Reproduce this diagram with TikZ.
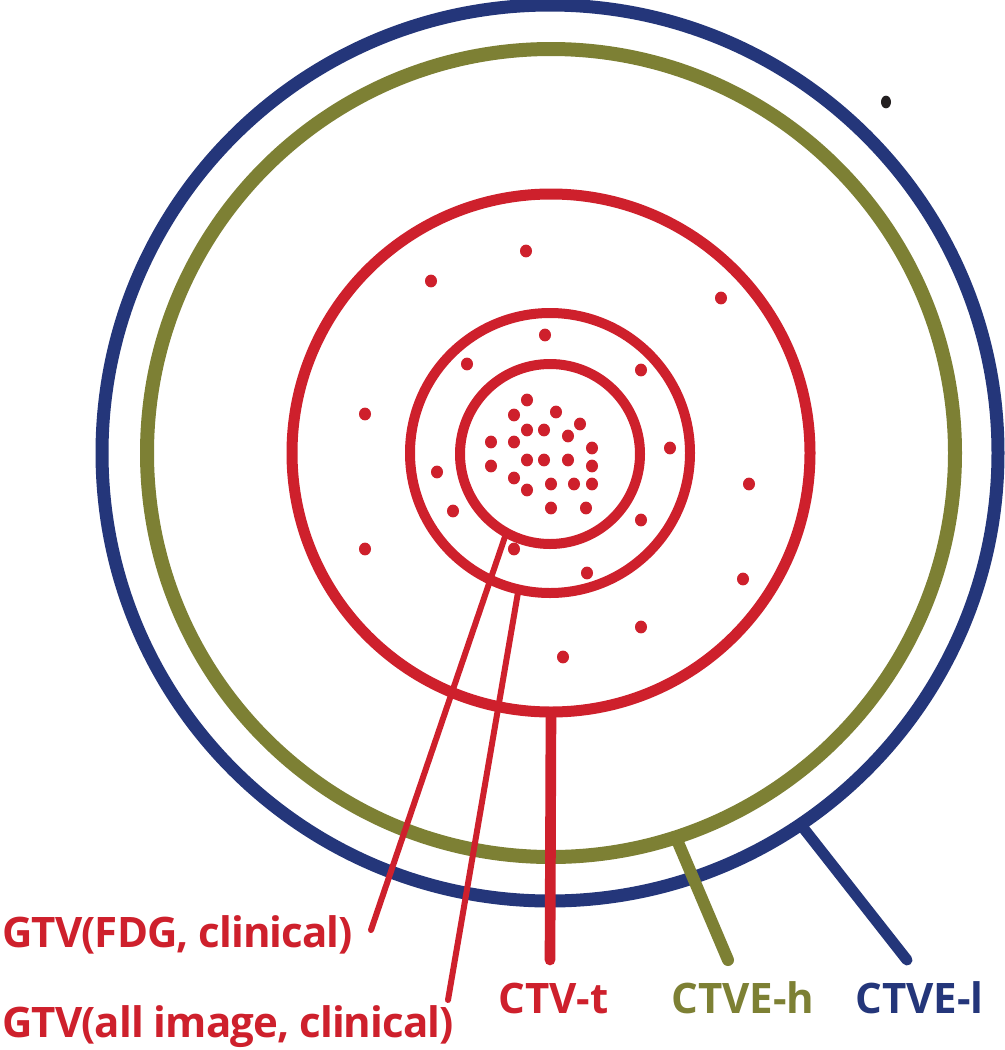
\documentclass[tikz,border=0pt]{standalone}
\usepackage{fontspec}
\newfontfamily\lblfont{Open Sans}
\newfontfamily\lblfonttight{Open Sans}[LetterSpace=-2.2]
\usetikzlibrary{shapes.geometric}
\definecolor{cred}{RGB}{206,32,44}
\definecolor{cgreen}{RGB}{125,128,52}
\definecolor{cblue}{RGB}{36,54,122}
\definecolor{cdot}{RGB}{35,31,32}
\tikzset{
  ring/.style={circle, draw, inner sep=0pt, outer sep=0pt, fill=none},
  lbl/.style={anchor=base west, inner sep=0pt, font=\lblfont\bfseries\fontsize{31.5}{36}\selectfont},
  lbltight/.style={anchor=base west, inner sep=0pt, font=\lblfonttight\bfseries\fontsize{31.5}{36}\selectfont},
  conn/.style={line cap=round},
}
\begin{document}
\begin{tikzpicture}[x=0.75pt,y=-0.75pt]
\useasboundingbox (0,0) rectangle (1005,1050);
\fill[white] (0,0) rectangle (1005,1050);
% outer circles
\node[ring, draw=cblue, line width=9.75pt, minimum size=672pt] (ctvel) at (550,453) {};
\node[ring, draw=cgreen, line width=10.5pt, minimum size=606pt] (ctveh) at (551,453) {};
% red circles
\node[ring, draw=cred, line width=8.25pt, minimum size=388.5pt] (ctvt) at (551,453) {};
\node[ring, draw=cred, line width=7.5pt, minimum size=210pt] (gtvall) at (550,453) {};
\node[ring, draw=cred, line width=7.5pt, minimum size=135pt] (gtvfdg) at (550,454) {};
% black dot
\node[ellipse, fill=cdot, inner sep=0pt, minimum width=7.5pt, minimum height=9.5pt] (bdot) at (886,102) {};
% dots
\foreach \p in {(526,251),(431,281),(721,298),(365,414),(749,484),(365,549),(743,579),(641,627),(563,657),
  (545,335),(467,364),(641,370),(670,448),(437,472),(453,511),(641,520),(514,549),(587,573),
  (527,400),(514,415),(556,412),(580,424),(527,430),(544,430),(568,436),(491,442),(514,442),(592,448),
  (527,460),(544,460),(568,460),(491,466),(592,466),(514,478),(551,484),(574,484),(592,484),(527,490),
  (551,508),(586,508)}
  \fill[cred] \p ellipse (6 and 6.4);
% labels
\node[lbltight, text=cred] (lfdg) at (2,947) {GTV(FDG, clinical)};
\node[lbltight, text=cred] (lall) at (2,1037) {GTV(all image, clinical)};
\node[lbl, text=cred] (lctvt) at (498,1013) {CTV-t};
\node[lbl, text=cgreen] (lctveh) at (671,1013) {CTVE-h};
\node[lbl, text=cblue] (lctvel) at (855,1013) {CTVE-l};
% connector ends
\coordinate (efdg) at (371,930);
\coordinate (eall) at (448,1000);
\coordinate (ectvt) at (550,960);
\coordinate (ectveh) at (728,960);
\coordinate (ectvel) at (907,960);
% connectors
\draw[conn, cred, line width=4.5pt] (gtvfdg.241) -- (efdg);
\draw[conn, cred, line width=4.5pt] (gtvall.257) -- (eall);
\draw[conn, cred, line width=8pt] (ctvt.270) -- (ectvt);
\draw[conn, cgreen, line width=9pt] (ctveh.288.8) -- (ectveh);
\draw[conn, cblue, line width=8.25pt] (ctvel.304.8) -- (ectvel);
\end{tikzpicture}
\end{document}
